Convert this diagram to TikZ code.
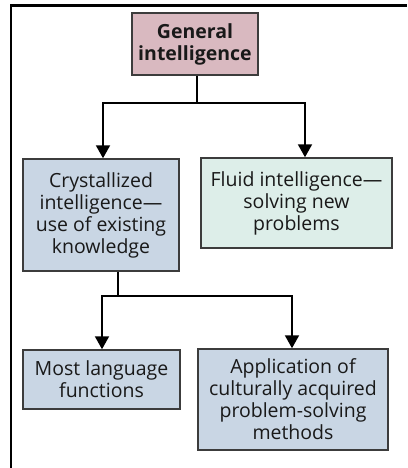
\documentclass[tikz,border=0pt]{standalone}
\usepackage{fontspec}
\setmainfont{Open Sans}
\usetikzlibrary{arrows.meta}
\definecolor{pinkfill}{HTML}{D9B9C0}
\definecolor{bluefill}{HTML}{C9D6E4}
\definecolor{greenfill}{HTML}{DDEEE9}
\definecolor{edge}{HTML}{3C3C3C}
\tikzset{
  box/.style={draw=edge, line width=1.5pt, align=center, inner sep=0pt,
    font=\fontsize{19.5}{22}\selectfont, text=black!90},
  conn/.style={line width=2pt, black},
  arr/.style={conn, -{Triangle[width=14pt,length=13pt]}},
}
\begin{document}
\begin{tikzpicture}[x=1pt,y=-1pt]
\useasboundingbox (0,0) rectangle (407,468);
\fill[white] (0,0) rectangle (407,468);
% frame
\draw[line width=2.5pt] (11,468) -- (11,5.5) -- (407,5.5);
% boxes
\node[box, fill=pinkfill, minimum width=126pt, minimum height=62pt, font=\fontsize{19.5}{22}\selectfont\bfseries] (gen) at (195,44) {General\\intelligence};
\node[box, fill=bluefill, minimum width=156pt, minimum height=112pt] (cry) at (101,215) {Crystallized\\intelligence—\\use of existing\\knowledge};
\node[box, fill=greenfill, minimum width=191pt, minimum height=90pt] (flu) at (296.5,203) {Fluid intelligence—\\solving new\\problems};
\node[box, fill=bluefill, minimum width=157pt, minimum height=59pt] (lang) at (101.5,379.5) {Most language\\functions};
\node[box, fill=bluefill, minimum width=190pt, minimum height=101pt] (app) at (293,399.5) {Application of\\culturally acquired\\problem-solving\\methods};
% connectors
\coordinate (j1) at (197,103);
\coordinate (l1) at (103,103);
\coordinate (r1) at (305,103);
\draw[conn] (gen.south -| j1) -- (j1);
\draw[arr] (j1) -- (l1) -- (l1 |- cry.north);
\draw[arr] (j1) -- (r1) -- (r1 |- flu.north);
\coordinate (j2) at (118,296);
\coordinate (l2) at (102,296);
\coordinate (r2) at (292,296);
\draw[conn] (cry.south -| j2) -- (j2);
\draw[arr] (j2) -- (l2) -- (l2 |- lang.north);
\draw[arr] (j2) -- (r2) -- (r2 |- app.north);
\end{tikzpicture}
\end{document}
